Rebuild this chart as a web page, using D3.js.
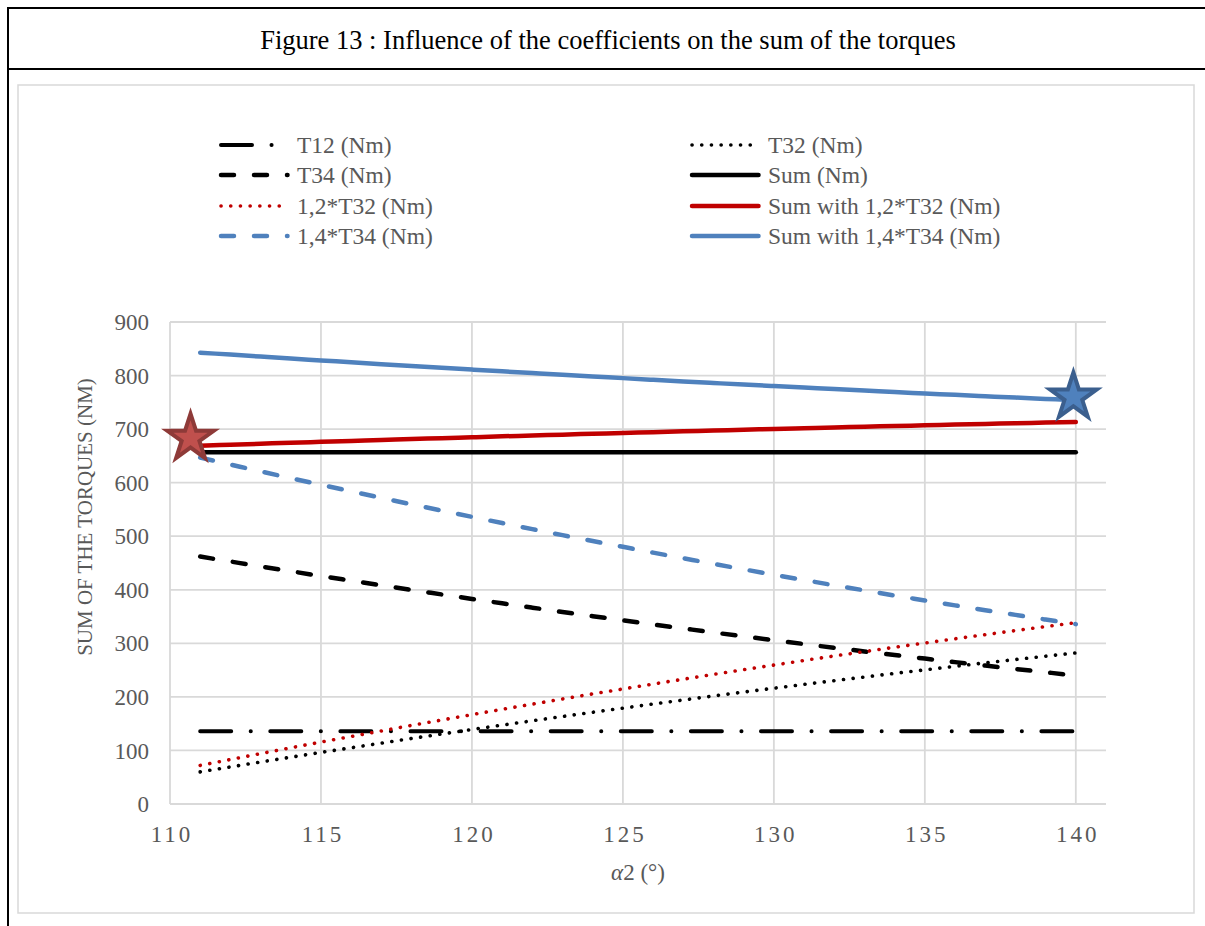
<!DOCTYPE html>
<html>
<head>
<meta charset="utf-8">
<script src="https://cdn.jsdelivr.net/npm/d3@7"></script>
<style>
  html, body { margin: 0; padding: 0; background: #fff; }
  svg { display: block; }
  text { font-family: "Liberation Serif", "Times New Roman", serif; }
</style>
</head>
<body>
<svg id="chart" width="1205" height="926"></svg>
<script>
// ---------------- DATA ----------------
const alpha2 = [111,112,113,114,115,116,117,118,119,120,121,122,123,124,125,126,127,128,129,130,131,132,133,134,135,136,137,138,139,140];
const T12 = [136,136,136,136,136,136,136,136,136,136,136,136,136,136,136,136,136,136,136,136,136,136,136,136,136,136,136,136,136,136];
const T32 = [60.0,69.2,78.4,87.4,96.3,105.0,113.7,122.3,130.7,139.1,147.3,155.4,163.4,171.3,179.0,186.7,194.2,201.7,209.0,216.2,223.3,230.3,237.1,243.9,250.5,257.1,263.5,269.8,276.0,282.1];
const T34 = [462.0,452.8,443.6,434.6,425.7,417.0,408.3,399.7,391.3,382.9,374.7,366.6,358.6,350.7,343.0,335.3,327.8,320.3,313.0,305.8,298.7,291.7,284.9,278.1,271.5,264.9,258.5,252.2,246.0,239.9];
const Sum = [657,657,657,657,657,657,657,657,657,657,657,657,657,657,657,657,657,657,657,657,657,657,657,657,657,657,657,657,657,657];
const T32x12 = [72.0,83.0,94.1,104.9,115.6,126.0,136.4,146.8,156.8,166.9,176.8,186.5,196.1,205.6,214.8,224.0,233.0,242.0,250.8,259.4,268.0,276.4,284.5,292.7,300.6,308.5,316.2,323.8,331.2,338.5];
const SumT32x12 = [669.0,670.8,672.7,674.5,676.3,678.0,679.7,681.5,683.1,684.8,686.5,688.1,689.7,691.3,692.8,694.3,695.8,697.3,698.8,700.2,701.7,703.1,704.4,705.8,707.1,708.4,709.7,711.0,712.2,713.4];
const T34x14 = [646.8,633.9,621.0,608.4,596.0,583.8,571.6,559.6,547.8,536.1,524.6,513.2,502.0,491.0,480.2,469.4,458.9,448.4,438.2,428.1,418.2,408.4,398.9,389.3,380.1,370.9,361.9,353.1,344.4,335.9];
const SumT34x14 = [842.8,839.1,835.4,831.8,828.3,824.8,821.3,817.9,814.5,811.2,807.9,804.6,801.4,798.3,795.2,792.1,789.1,786.1,783.2,780.3,777.5,774.7,772.0,769.2,766.6,764.0,761.4,758.9,756.4,754.0];
const xTicks = [110,115,120,125,130,135,140];
const yTicks = [0,100,200,300,400,500,600,700,800,900];
const starRed = {x: 110.68, y: 683};
const starBlue = {x: 139.92, y: 760};
const titleText = "Figure 13 : Influence of the coefficients on the sum of the torques";
const yTitle = "SUM OF THE TORQUES (NM)";

// ---------------- SERIES / STYLES ----------------
const series = [
  {name: "T12 (Nm)",                values: T12,        color: "#000000", width: 4,   dash: "31 19.5 0.1 19.5"},
  {name: "T32 (Nm)",                values: T32,        color: "#000000", width: 3.6, dash: "0.1 9.6"},
  {name: "T34 (Nm)",                values: T34,        color: "#000000", width: 4.5, dash: "13 20"},
  {name: "Sum (Nm)",                values: Sum,        color: "#000000", width: 4.5, dash: null},
  {name: "1,2*T32 (Nm)",            values: T32x12,     color: "#c00000", width: 3.6, dash: "0.1 9.6"},
  {name: "Sum with 1,2*T32 (Nm)",   values: SumT32x12,  color: "#c00000", width: 4.5, dash: null},
  {name: "1,4*T34 (Nm)",            values: T34x14,     color: "#4f81bd", width: 4.5, dash: "13 20"},
  {name: "Sum with 1,4*T34 (Nm)",   values: SumT34x14,  color: "#4f81bd", width: 4.5, dash: null}
];

const svg = d3.select("#chart");

// ---------------- FRAME ----------------
svg.append("line").attr("x1", 8).attr("x2", 1205).attr("y1", 8).attr("y2", 8).attr("stroke", "#000").attr("stroke-width", 2);
svg.append("line").attr("x1", 8).attr("x2", 1205).attr("y1", 69).attr("y2", 69).attr("stroke", "#000").attr("stroke-width", 2);
svg.append("line").attr("x1", 8).attr("x2", 8).attr("y1", 7).attr("y2", 926).attr("stroke", "#000").attr("stroke-width", 2);

svg.append("text").attr("x", 608).attr("y", 49).attr("text-anchor", "middle")
  .attr("font-size", 26.5).attr("fill", "#000").text(titleText);

svg.append("rect").attr("x", 18).attr("y", 85).attr("width", 1176).attr("height", 828)
  .attr("fill", "#fff").attr("stroke", "#d9d9d9").attr("stroke-width", 1.5);

// ---------------- SCALES ----------------
const x = d3.scaleLinear().domain([110, 141]).range([170, 1106]);
const y = d3.scaleLinear().domain([0, 900]).range([804, 322]);

// gridlines
const g = svg.append("g");
g.selectAll("line.h").data(yTicks).join("line").attr("class", "h")
  .attr("x1", x(110)).attr("x2", x(141)).attr("y1", d => y(d)).attr("y2", d => y(d))
  .attr("stroke", "#d9d9d9").attr("stroke-width", 1.8);
g.selectAll("line.v").data(xTicks).join("line").attr("class", "v")
  .attr("x1", d => x(d)).attr("x2", d => x(d)).attr("y1", y(0)).attr("y2", y(900))
  .attr("stroke", "#d9d9d9").attr("stroke-width", 1.8);

// axes labels via d3 axes
const yAxis = d3.axisLeft(y).tickValues(yTicks).tickSize(0).tickPadding(0);
const yg = svg.append("g").attr("transform", `translate(149,0)`).call(yAxis);
yg.select(".domain").remove();
yg.selectAll("text").attr("font-size", 23).attr("fill", "#595959")
  .attr("font-family", "Liberation Serif, serif").attr("dy", "0.33em");

const xAxis = d3.axisBottom(x).tickValues(xTicks).tickSize(0).tickPadding(0);
const xg = svg.append("g").attr("transform", `translate(0,842)`).call(xAxis);
xg.select(".domain").remove();
xg.selectAll("text").attr("font-size", 23).attr("fill", "#595959")
  .attr("font-family", "Liberation Serif, serif").attr("dy", 0)
  .attr("letter-spacing", "3px").attr("dx", "1.5px");

// axis titles
svg.append("text").attr("transform", "translate(92,517) rotate(-90)")
  .attr("text-anchor", "middle").attr("font-size", 21).attr("fill", "#595959").text(yTitle);

const xt = svg.append("text").attr("x", 638).attr("y", 880).attr("text-anchor", "middle")
  .attr("font-size", 23).attr("fill", "#595959");
xt.append("tspan").attr("font-style", "italic").text("α");
xt.append("tspan").text("2 (°)");

// ---------------- LINES ----------------
const line = d3.line().x((d, i) => x(alpha2[i])).y(d => y(d)).curve(d3.curveMonotoneX);
const plot = svg.append("g");
series.forEach(s => {
  const p = plot.append("path").datum(s.values).attr("d", line)
    .attr("fill", "none").attr("stroke", s.color).attr("stroke-width", s.width)
    .attr("stroke-linecap", "round").attr("stroke-linejoin", "round");
  if (s.dash) p.attr("stroke-dasharray", s.dash);
});

// ---------------- STARS ----------------
function star(cx, cy, dark, light) {
  const big = d3.symbol().type(d3.symbolStar).size(31 * 31 / 0.8908130915);
  const small = d3.symbol().type(d3.symbolStar).size(18 * 18 / 0.8908130915);
  svg.append("path").attr("d", big()).attr("transform", `translate(${cx},${cy})`).attr("fill", dark);
  svg.append("path").attr("d", small()).attr("transform", `translate(${cx},${cy})`).attr("fill", light);
}
star(x(starRed.x), y(starRed.y), "#8e3a38", "#c0504d");
star(x(starBlue.x), y(starBlue.y), "#3b5f8e", "#4f81bd");

// ---------------- LEGEND ----------------
const legendOrder = [
  {s: 0, col: 0, row: 0}, {s: 1, col: 1, row: 0},
  {s: 2, col: 0, row: 1}, {s: 3, col: 1, row: 1},
  {s: 4, col: 0, row: 2}, {s: 5, col: 1, row: 2},
  {s: 6, col: 0, row: 3}, {s: 7, col: 1, row: 3}
];
const rowY = [145, 175, 206, 236];
const colX = [221, 692];
legendOrder.forEach(o => {
  const s = series[o.s];
  const lx = colX[o.col], ly = rowY[o.row];
  const l = svg.append("line").attr("x1", lx).attr("x2", lx + 66.5).attr("y1", ly).attr("y2", ly)
    .attr("stroke", s.color).attr("stroke-width", s.width).attr("stroke-linecap", "round");
  if (s.dash) l.attr("stroke-dasharray", s.dash);
  svg.append("text").attr("x", lx + 76).attr("y", ly).attr("dy", "0.33em")
    .attr("font-size", 23.5).attr("fill", "#595959").text(s.name);
});
</script>
</body>
</html>
